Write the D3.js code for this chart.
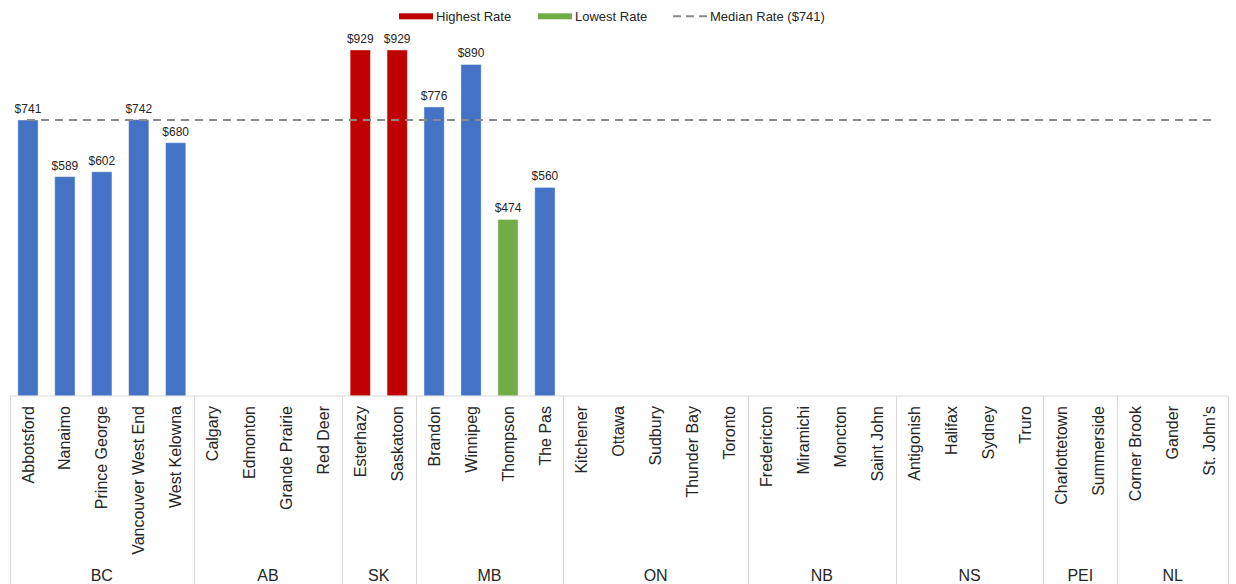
<!DOCTYPE html>
<html>
<head>
<meta charset="utf-8">
<script src="https://cdn.jsdelivr.net/npm/d3@7"></script>
<style>
  html, body { margin: 0; padding: 0; background: #fff; }
  svg { display: block; font-family: "Liberation Sans", Arial, sans-serif; }
</style>
</head>
<body>
<svg id="chart" width="1236" height="584"></svg>
<script>
const provinces = ["BC", "AB", "SK", "MB", "ON", "NB", "NS", "PEI", "NL"];
const cities = ["Abbotsford", "Nanaimo", "Prince George", "Vancouver West End", "West Kelowna",
  "Calgary", "Edmonton", "Grande Prairie", "Red Deer",
  "Esterhazy", "Saskatoon",
  "Brandon", "Winnipeg", "Thompson", "The Pas",
  "Kitchener", "Ottawa", "Sudbury", "Thunder Bay", "Toronto",
  "Fredericton", "Miramichi", "Moncton", "Saint John",
  "Antigonish", "Halifax", "Sydney", "Truro",
  "Charlottetown", "Summerside",
  "Corner Brook", "Gander", "St. John's"];
const cityProvince = ["BC", "BC", "BC", "BC", "BC",
  "AB", "AB", "AB", "AB",
  "SK", "SK",
  "MB", "MB", "MB", "MB",
  "ON", "ON", "ON", "ON", "ON",
  "NB", "NB", "NB", "NB",
  "NS", "NS", "NS", "NS",
  "PEI", "PEI",
  "NL", "NL", "NL"];
const rates = [741, 589, 602, 742, 680,
  null, null, null, null,
  929, 929,
  776, 890, 474, 560,
  null, null, null, null, null,
  null, null, null, null,
  null, null, null, null,
  null, null,
  null, null, null];
const medianRate = 741;
const legendLabels = ["Highest Rate", "Lowest Rate", "Median Rate ($741)"];

const colors = { normal: "#4472C4", high: "#C00000", low: "#70AD47", median: "#8a8a8a", grid: "#d9d9d9", text: "#262626" };

const svg = d3.select("#chart");
const left = 9.5, right = 1228, baseY = 396, topY = 23.5;

const x = d3.scaleBand().domain(cities).range([left, right]).paddingInner(0.45).paddingOuter(0.225);
const y = d3.scaleLinear().domain([0, 1000]).range([baseY, topY]);

const valid = rates.filter(v => v != null);
const maxRate = d3.max(valid), minRate = d3.min(valid);
const data = cities.map((c, i) => ({ city: c, prov: cityProvince[i], rate: rates[i] }));

function fillFor(v) {
  if (v === maxRate) return colors.high;
  if (v === minRate) return colors.low;
  return colors.normal;
}

// Bars
svg.append("g").selectAll("rect")
  .data(data.filter(d => d.rate != null))
  .join("rect")
  .attr("x", d => x(d.city))
  .attr("width", x.bandwidth())
  .attr("y", d => y(d.rate))
  .attr("height", d => y(0) - y(d.rate))
  .attr("fill", d => fillFor(d.rate))
  .attr("stroke", "#ffffff")
  .attr("stroke-opacity", 0.45)
  .attr("stroke-width", 1);

// Data labels
svg.append("g").selectAll("text")
  .data(data.filter(d => d.rate != null))
  .join("text")
  .attr("x", d => x(d.city) + x.bandwidth() / 2)
  .attr("y", d => y(d.rate) - 7)
  .attr("text-anchor", "middle")
  .attr("font-size", 12)
  .attr("fill", colors.text)
  .text(d => "$" + d.rate);

// Median line
const step = x.step();
const halfGap = (step - x.bandwidth()) / 2;
svg.append("line")
  .attr("x1", x(cities[0]) + x.bandwidth() / 2 - 1)
  .attr("x2", x(cities[cities.length - 1]) + x.bandwidth() / 2 + 2)
  .attr("y1", y(medianRate)).attr("y2", y(medianRate))
  .attr("stroke", colors.median)
  .attr("stroke-width", 2)
  .attr("stroke-dasharray", "8,6");

// Axis line
svg.append("line")
  .attr("x1", left).attr("x2", right)
  .attr("y1", baseY).attr("y2", baseY)
  .attr("stroke", colors.grid).attr("stroke-width", 1);

// Group separators
const groups = provinces.map(p => {
  const members = cities.filter((c, i) => cityProvince[i] === p);
  const start = x(members[0]) - halfGap;
  const end = x(members[members.length - 1]) + x.bandwidth() + halfGap;
  return { prov: p, start, end };
});
const bounds = [groups[0].start].concat(groups.map(g => g.end));
svg.append("g").selectAll("line")
  .data(bounds)
  .join("line")
  .attr("x1", d => Math.round(d) + 0.5).attr("x2", d => Math.round(d) + 0.5)
  .attr("y1", baseY).attr("y2", 584)
  .attr("stroke", colors.grid).attr("stroke-width", 1);

// City labels
svg.append("g").selectAll("text")
  .data(data)
  .join("text")
  .attr("transform", d => `translate(${x(d.city) + x.bandwidth() / 2},406) rotate(-90)`)
  .attr("text-anchor", "end")
  .attr("dy", "0.35em")
  .attr("font-size", 16)
  .attr("fill", colors.text)
  .text(d => d.city);

// Province labels
svg.append("g").selectAll("text")
  .data(groups)
  .join("text")
  .attr("x", d => (d.start + d.end) / 2)
  .attr("y", 581)
  .attr("text-anchor", "middle")
  .attr("font-size", 16)
  .attr("fill", colors.text)
  .text(d => d.prov);

// Legend
const lg = svg.append("g").attr("font-size", 13).attr("fill", colors.text);
lg.append("rect").attr("x", 399).attr("y", 13.3).attr("width", 34).attr("height", 6).attr("fill", colors.high);
lg.append("text").attr("x", 436).attr("y", 21).text(legendLabels[0]);
lg.append("rect").attr("x", 538).attr("y", 13.3).attr("width", 34).attr("height", 6).attr("fill", colors.low);
lg.append("text").attr("x", 575).attr("y", 21).text(legendLabels[1]);
lg.append("line").attr("x1", 673).attr("x2", 708).attr("y1", 16.3).attr("y2", 16.3)
  .attr("stroke", colors.median).attr("stroke-width", 2).attr("stroke-dasharray", "8,5");
lg.append("text").attr("x", 710).attr("y", 21).text(legendLabels[2]);
</script>
</body>
</html>
